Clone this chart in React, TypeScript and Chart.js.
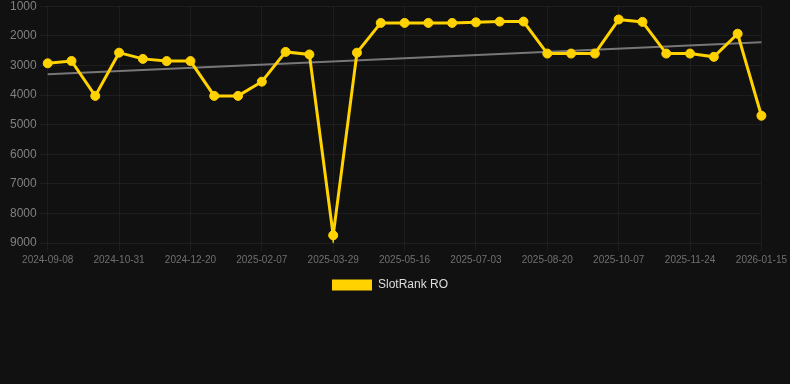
import React, { useEffect, useRef } from "react";
import { Chart, registerables } from "chart.js";

Chart.register(...registerables);

const dates: string[] = [
  "2024-09-08", "2024-09-26", "2024-10-13", "2024-10-31", "2024-11-17", "2024-12-03",
  "2024-12-20", "2025-01-06", "2025-01-23", "2025-02-07", "2025-02-24", "2025-03-13",
  "2025-03-29", "2025-04-14", "2025-04-30", "2025-05-16", "2025-06-01", "2025-06-17",
  "2025-07-03", "2025-07-19", "2025-08-04", "2025-08-20", "2025-09-05", "2025-09-21",
  "2025-10-07", "2025-10-23", "2025-11-08", "2025-11-24", "2025-12-11", "2025-12-28",
  "2026-01-15",
];

const rankValues: number[] = [
  2930, 2850, 4030, 2570, 2780, 2855, 2855, 4030, 4030, 3550, 2545, 2630,
  8740, 2570, 1565, 1565, 1565, 1565, 1545, 1520, 1520, 2600, 2600, 2600,
  1450, 1530, 2600, 2600, 2710, 1930, 4700,
];

const trendStart = 3295;
const trendEnd = 2215;

const yTicks: number[] = [1000, 2000, 3000, 4000, 5000, 6000, 7000, 8000, 9000];

export default function App() {
  const ref = useRef<HTMLCanvasElement | null>(null);

  useEffect(() => {
    document.body.style.margin = "0";
    document.body.style.background = "#111111";
    if (!ref.current) return;
    const trend: (number | null)[] = dates.map((_, i) =>
      i === 0 ? trendStart : i === dates.length - 1 ? trendEnd : null
    );
    const chart = new Chart(ref.current, {
      type: "line",
      data: {
        labels: dates,
        datasets: [
          {
            label: "SlotRank RO",
            data: rankValues,
            borderColor: "#FFD200",
            backgroundColor: "#FFD200",
            borderWidth: 3,
            pointRadius: 4.5,
            pointHoverRadius: 4.5,
            pointBorderWidth: 1,
            pointBackgroundColor: "#FFD200",
            pointBorderColor: "#FFD200",
            tension: 0,
            order: 1,
          },
          {
            label: "trend",
            data: trend,
            borderColor: "#777777",
            borderWidth: 2,
            pointRadius: 0,
            spanGaps: true,
            order: 2,
          },
        ],
      },
      options: {
        animation: false,
        responsive: true,
        maintainAspectRatio: false,
        layout: { padding: { left: 7, right: 17, top: 0, bottom: 0 } },
        plugins: {
          legend: {
            position: "bottom",
            labels: {
              color: "#dddddd",
              font: { size: 12, family: "Arial, 'Liberation Sans', sans-serif" },
              boxWidth: 40,
              boxHeight: 11,
              padding: 10,
              filter: (item) => item.text !== "trend",
              generateLabels: (c) => {
                const items = Chart.defaults.plugins.legend.labels.generateLabels(c);
                return items.map((it) => ({ ...it, lineWidth: 0, strokeStyle: "rgba(0,0,0,0)" }));
              },
            },
          },
          tooltip: { enabled: false },
        },
        scales: {
          x: {
            grid: { color: "rgba(255,255,255,0.05)" },
            border: { display: false },
            ticks: {
              color: "#707070",
              font: { size: 10, family: "Arial, 'Liberation Sans', sans-serif" },
              maxRotation: 0,
              autoSkip: true,
              maxTicksLimit: 11,
            },
          },
          y: {
            reverse: true,
            min: 1000,
            max: 9000,
            afterBuildTicks: (axis) => {
              axis.ticks = yTicks.map((v) => ({ value: v }));
            },
            grid: { color: "rgba(255,255,255,0.05)" },
            border: { display: false },
            ticks: {
              color: "#808080",
              font: { size: 12, family: "Arial, 'Liberation Sans', sans-serif" },
              callback: (v) => String(v),
            },
          },
        },
      },
    });
    return () => chart.destroy();
  }, []);

  return (
    <div style={{ width: 790, height: 384, background: "#111111", overflow: "hidden" }}>
      <div style={{ width: 790, height: 305, marginTop: -4, position: "relative" }}>
        <canvas ref={ref} />
      </div>
    </div>
  );
}
